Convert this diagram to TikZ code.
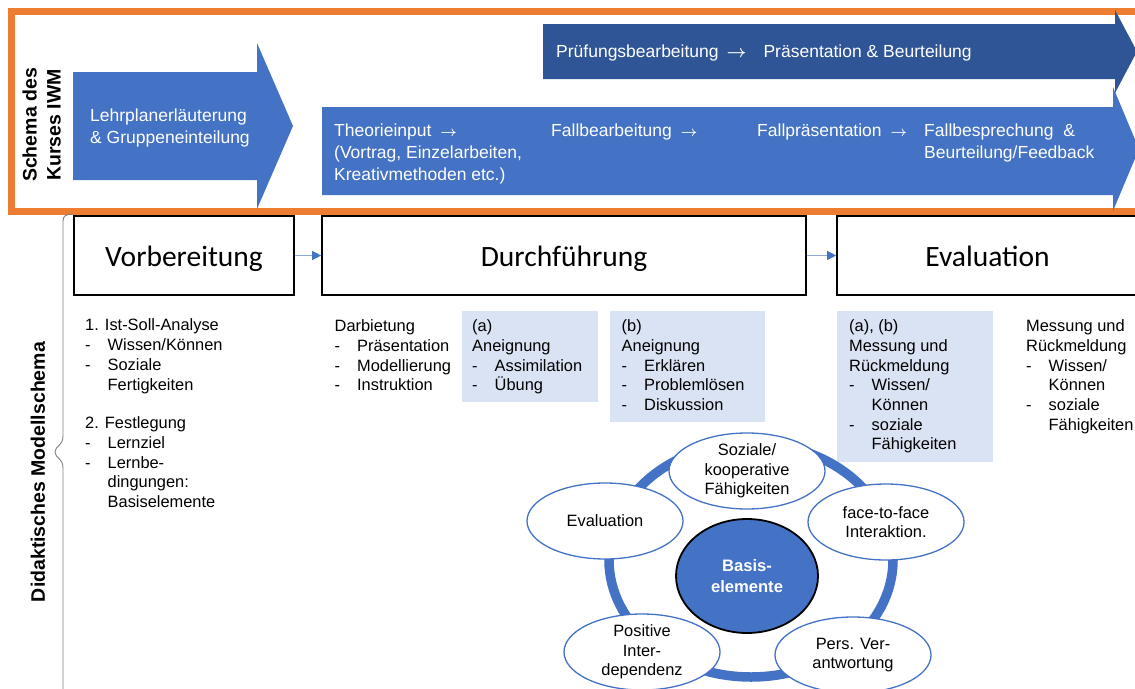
\documentclass[tikz,border=0pt]{standalone}
\usepackage{fontspec}
\setmainfont{Liberation Sans}
\newfontfamily\calibrifont{Carlito}
\usetikzlibrary{arrows.meta,shapes.geometric}
\definecolor{mblue}{HTML}{4472C4}
\definecolor{mdark}{HTML}{2F5597}
\definecolor{morange}{HTML}{ED7D31}
\definecolor{mlight}{HTML}{DAE3F3}
\definecolor{mgray}{HTML}{7F7F7F}
\newcommand\myitem{\makebox[22.5pt][l]{-}}
\newcommand\mycont{\hspace*{22.5pt}}
\newcommand\rarrsmall{{\fontsize{15}{22}\selectfont\boldmath$\rightarrow$}}
\newcommand\rarrbig{{\fontsize{17.5}{22}\selectfont\boldmath$\rightarrow$}}
\begin{document}
\begin{tikzpicture}[x=1pt,y=-1pt,
  frame/.style={draw=morange,line width=7pt},
  bigarrow/.style={fill=mblue},
  darkarrow/.style={fill=mdark},
  arrtext/.style={text=white,font=\fontsize{17.5}{22}\selectfont,anchor=north west,inner sep=0pt,align=left},
  vtitle/.style={rotate=90,font=\bfseries\fontsize{19.5}{24}\selectfont,align=center,inner sep=0pt},
  phase/.style={draw=black,line width=1.6pt,minimum height=79pt,font=\calibrifont\fontsize{29.5}{34}\selectfont,text height=21pt,text depth=0pt,inner sep=0pt},
  conn/.style={draw=mblue!60,line width=1pt,-{Triangle[length=9pt,width=9pt,color=mblue]}},
  body/.style={font=\fontsize{16.4}{19.7}\selectfont,anchor=north west,inner sep=0pt,align=left},
  lightbox/.style={fill=mlight},
  ring/.style={draw=mblue,line width=9.5pt},
  brace/.style={draw=mgray,line width=0.9pt},
  elem/.style={ellipse,draw=mblue,line width=1.3pt,fill=white,minimum width=156pt,minimum height=76pt,inner sep=-3pt,font=\fontsize{16.4}{19.7}\selectfont,align=center},
  core/.style={ellipse,draw=black,line width=1.8pt,fill=mblue,text=white,font=\bfseries\fontsize{16.6}{21}\selectfont,align=center,minimum width=142pt,minimum height=114pt,inner sep=0pt}
]
\path[use as bounding box] (0,0) rectangle (1135,688);
\clip (0,0) rectangle (1135,688);

% ---- top frame: course schema ----
\draw[frame] (11.5,11.5) rectangle (1160,211);
\node[vtitle] (schema) at (41.7,125) {Schema des\\Kurses IWM};

\fill[bigarrow] (73,72) -- (257,72) -- (257,43) -- (293,126) -- (257,209) -- (257,180) -- (73,180) -- cycle;
\node[arrtext] (lehr) at (90,105.6) {\strut Lehrplanerläuterung\\\& Gruppeneinteilung};

\fill[darkarrow] (543,24) -- (1115,24) -- (1115,10) -- (1137,51.5) -- (1115,93) -- (1115,79) -- (543,79) -- cycle;
\node[arrtext] (pruef) at (556,42) {\strut Prüfungsbearbeitung\hspace{8pt}\rarrbig\hspace{17pt}Präsentation \& Beurteilung};

\fill[bigarrow] (322,107) -- (1113,107) -- (1113,87) -- (1139,149) -- (1113,211) -- (1113,195) -- (322,195) -- cycle;
\node[arrtext] (theo) at (334,120.4) {\strut Theorieinput\hspace{9pt}\rarrsmall\\(Vortrag, Einzelarbeiten,\\Kreativmethoden etc.)};
\node[arrtext] (fallb) at (551,120.4) {\strut Fallbearbeitung\hspace{9pt}\rarrsmall};
\node[arrtext] (fallp) at (757,120.4) {\strut Fallpräsentation\hspace{9pt}\rarrsmall};
\node[arrtext] (fallbes) at (924,120.4) {\strut Fallbesprechung \ \&\\Beurteilung/Feedback};

% ---- didactic model ----
\draw[brace] (73,214) .. controls (66,214) and (63,216) .. (63,221) -- (63,436)
  .. controls (63,446) and (55,446) .. (55,452) .. controls (55,458) and (63,458) .. (63,468) -- (63,690);
\node[vtitle] (didak) at (38,472) {Didaktisches Modellschema};

\node[phase,minimum width=220pt] (vorb) at (184,255.5) {Vorbereitung};
\node[phase,minimum width=484pt] (durch) at (564,255.5) {Durchführung};
\node[phase,minimum width=301pt] (evalh) at (987.5,255.5) {Evaluation};
\draw[conn] (vorb.east) -- (durch.west);
\draw[conn] (durch.east) -- (evalh.west);

\fill[lightbox] (462,311) rectangle (598,402);
\fill[lightbox] (610,311) rectangle (765,422);
\fill[lightbox] (837,311) rectangle (993,462);

\node[body] (vlist) at (85,317) {\strut 1. Ist-Soll-Analyse\\\myitem Wissen/Können\\\myitem Soziale\\\mycont Fertigkeiten\\[19pt]2. Festlegung\\\myitem Lernziel\\\myitem Lernbe-\\\mycont dingungen:\\\mycont Basiselemente};
\node[body] (dlist) at (334.5,317.7) {\strut Darbietung\\\myitem Präsentation\\\myitem Modellierung\\\myitem Instruktion};
\node[body] (alist) at (472,317.7) {\strut (a)\\Aneignung\\\myitem Assimilation\\\myitem Übung};
\node[body] (blist) at (621.5,317.7) {\strut (b)\\Aneignung\\\myitem Erklären\\\myitem Problemlösen\\\myitem Diskussion};
\node[body] (ablist) at (849,317.7) {\strut (a), (b)\\Messung und\\Rückmeldung\\\myitem Wissen/\\\mycont Können\\\myitem soziale\\\mycont Fähigkeiten};
\node[body] (rlist) at (1026,317.7) {\strut Messung und\\Rückmeldung\\\myitem Wissen/\\\mycont Können\\\myitem soziale\\\mycont Fähigkeiten};

% ---- cycle of basic elements ----
\draw[ring] (751,560) ellipse [x radius=142, y radius=117];
\node[elem] (soz) at (747,471) {Soziale/\\kooperative\\Fähigkeiten};
\node[elem] (evl) at (605,521) {Evaluation};
\node[elem] (face) at (886,522) {face-to-face\\Interaktion.};
\node[elem] (posi) at (642,652) {Positive\\Inter-\\dependenz};
\node[elem] (pers) at (853,655) {Pers. Ver-\\antwortung};
\node[core] (basis) at (747,576) {Basis-\\elemente};
\end{tikzpicture}
\end{document}
